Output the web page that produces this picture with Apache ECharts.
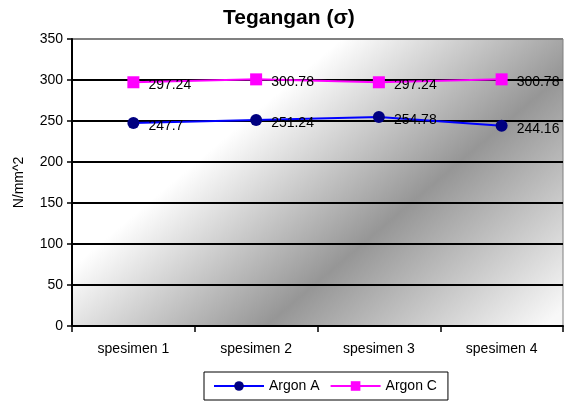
<!DOCTYPE html>
<html><head><meta charset="utf-8">
<script src="https://cdn.jsdelivr.net/npm/echarts@6/dist/echarts.min.js"></script>
<style>html,body{margin:0;padding:0;background:#fff}#c{width:565px;height:403px}</style>
</head><body><div id="c"></div>
<script>
var categories = ['spesimen 1', 'spesimen 2', 'spesimen 3', 'spesimen 4'];
var argonA = [247.7, 251.24, 254.78, 244.16];
var argonC = [297.24, 300.78, 297.24, 300.78];
var seriesNames = ['Argon A', 'Argon C'];
var titleText = 'Tegangan (\u03c3)';
var yName = 'N/mm^2';

var FONT = 'Liberation Sans, Arial, sans-serif';
var chart = echarts.init(document.getElementById('c'), null, {renderer: 'canvas'});
var labelCfg = {show: true, position: 'right', distance: 9, offset: [0, 3], color: '#000', fontSize: 14, fontFamily: FONT};
chart.setOption({
  animation: false,
  title: {text: titleText, left: 223, top: 8, padding: 0,
    textStyle: {fontSize: 21, fontWeight: 'bold', color: '#000', fontFamily: FONT}},
  legend: {left: 204, top: 372, padding: [7, 11, 7, 9], itemWidth: 50, itemHeight: 12, itemGap: 10,
    borderColor: '#000', borderWidth: 1, backgroundColor: '#fff',
    textStyle: {fontSize: 14, color: '#000', fontFamily: FONT},
    data: seriesNames},
  grid: {left: 72, right: 2, top: 39, bottom: 77, show: true, borderColor: '#808080', borderWidth: 1,
    backgroundColor: {type: 'linear', x: 162, y: 191, x2: 388, y2: 458, global: true,
      colorStops: [{offset: 0, color: '#ffffff'}, {offset: 0.486, color: '#969696'}, {offset: 1, color: '#f8f8f8'}]}},
  xAxis: {type: 'category', data: categories, boundaryGap: true,
    axisLine: {lineStyle: {color: '#000', width: 2}},
    axisTick: {show: true, length: 6, lineStyle: {color: '#000', width: 1.5}},
    axisLabel: {fontSize: 14, color: '#000', margin: 16, fontFamily: FONT}},
  yAxis: {type: 'value', min: 0, max: 350, interval: 50,
    name: yName, nameLocation: 'middle', nameGap: 46,
    nameTextStyle: {fontSize: 14, color: '#000', fontFamily: FONT},
    axisLine: {show: true, lineStyle: {color: '#000', width: 2}},
    axisTick: {show: true, length: 5, lineStyle: {color: '#000', width: 1.5}},
    axisLabel: {fontSize: 14, color: '#000', margin: 9, fontFamily: FONT},
    splitLine: {show: true, lineStyle: {width: 2, color: ['#000', '#000', '#000', '#000', '#000', '#000', '#000', '#808080']}}},
  series: [
    {name: seriesNames[0], type: 'line', data: argonA, symbol: 'circle', symbolSize: 12,
      lineStyle: {color: '#0000ff', width: 2}, itemStyle: {color: '#000080'}, label: labelCfg},
    {name: seriesNames[1], type: 'line', data: argonC, symbol: 'rect', symbolSize: 12,
      lineStyle: {color: '#ff00ff', width: 2}, itemStyle: {color: '#ff00ff'}, label: labelCfg}
  ]
});
</script></body></html>
